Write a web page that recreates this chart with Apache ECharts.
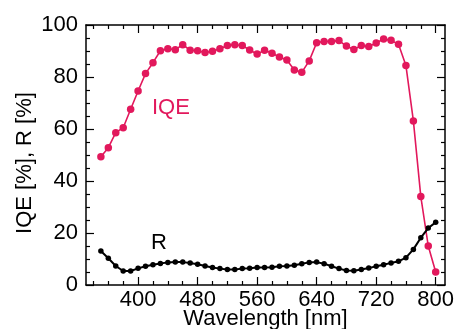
<!DOCTYPE html>
<html>
<head>
<meta charset="utf-8">
<script src="https://cdn.jsdelivr.net/npm/echarts@6/dist/echarts.min.js"></script>
<style>
html,body{margin:0;padding:0;background:#fff;}
#c{width:455px;height:329px;}
</style>
</head>
<body>
<div id="c"></div>
<script>
var wavelengths = [350,360,370,380,390,400,410,420,430,440,450,460,470,480,490,500,510,520,530,540,550,560,570,580,590,600,610,620,630,640,650,660,670,680,690,700,710,720,730,740,750,760,770,780,790,800];
var iqe = [49.3,52.8,58.6,60.5,67.6,74.6,81.3,85.5,90.1,90.9,90.5,92.4,90.3,90.1,89.4,89.9,90.9,92.1,92.4,92.1,90.4,88.8,90.3,89.1,87.7,86.5,82.7,81.8,86.2,93.2,93.7,93.7,94.0,91.9,90.6,92.1,91.7,93.1,94.6,94.1,92.6,84.4,63.1,34.0,15.0,5.0];
var refl = [13.1,10.3,7.3,5.4,5.4,6.4,7.2,7.8,8.3,8.7,8.8,8.8,8.5,8.0,7.3,6.7,6.3,6.0,6.0,6.3,6.4,6.7,6.7,6.8,7.2,7.3,7.6,8.2,8.7,8.8,8.2,7.2,6.3,5.6,5.5,6.0,6.5,7.2,7.8,8.5,9.1,10.5,13.7,18.2,21.9,24.1];
var xMajorTicks = [400,480,560,640,720,800];
var xMinorTicks = [340,360,380,420,440,460,500,520,540,580,600,620,660,680,700,740,760,780];

var FONT = 'Liberation Sans, Arial, sans-serif';
var FS = 22;
var pink = '#e2185c';
function pairs(ys){ var out=[]; for(var i=0;i<wavelengths.length;i++) out.push([wavelengths[i], ys[i]]); return out; }

function xAx(pos, ticks, len, showLine, showLabel){
  return {
    type:'value', position:pos, min:330, max:812.5,
    axisLine:{show:showLine, lineStyle:{color:'#000', width:1.5}},
    axisTick:{show:true, inside:true, length:len, customValues:ticks, lineStyle:{color:'#000', width:1.2}},
    axisLabel:{show:showLabel, customValues:ticks, color:'#000', fontSize:FS, fontFamily:FONT, margin:4},
    splitLine:{show:false}
  };
}
function yAx(pos, showLabel){
  return {
    type:'value', position:pos, min:0, max:100, interval:20,
    axisLine:{show:true, lineStyle:{color:'#000', width:1.5}},
    axisTick:{show:true, inside:true, length:8, lineStyle:{color:'#000', width:1.2}},
    minorTick:{show:true, splitNumber:4, length:4, lineStyle:{color:'#000', width:1.2}},
    axisLabel:{show:showLabel, color:'#000', fontSize:FS, fontFamily:FONT, margin:8},
    splitLine:{show:false}, minorSplitLine:{show:false}
  };
}

var chart = echarts.init(document.getElementById('c'), null, {renderer:'canvas'});
var xa0 = xAx('bottom', xMajorTicks, 8, true, true);
xa0.name = 'Wavelength [nm]';
xa0.nameLocation = 'middle';
xa0.nameGap = 23;
xa0.nameMoveOverlap = false;
xa0.nameTextStyle = {color:'#000', fontSize:FS, fontFamily:FONT};
chart.setOption({
  animation:false,
  grid:{left:86, right:10, top:25, bottom:44, containLabel:false, outerBoundsMode:'none'},
  xAxis:[
    xa0,
    xAx('bottom', xMinorTicks, 4, false, false),
    xAx('top', xMajorTicks, 8, true, false),
    xAx('top', xMinorTicks, 4, false, false)
  ],
  yAxis:[ yAx('left', true), yAx('right', false) ],
  graphic:[
    {type:'text', x:25, y:163, rotation:Math.PI/2,
     style:{text:'IQE [%], R [%]', fill:'#000', font:FS+'px '+FONT, align:'center', verticalAlign:'middle'}},
    {type:'text', x:152, y:107.5,
     style:{text:'IQE', fill:pink, font:'22px '+FONT, align:'left', verticalAlign:'middle'}},
    {type:'text', x:151, y:243,
     style:{text:'R', fill:'#000', font:'22px '+FONT, align:'left', verticalAlign:'middle'}}
  ],
  series:[
    {type:'line', name:'IQE', xAxisIndex:0, yAxisIndex:0, data:pairs(iqe),
     symbol:'circle', symbolSize:7.5, showSymbol:true,
     lineStyle:{color:pink, width:1.6}, itemStyle:{color:pink}},
    {type:'line', name:'R', xAxisIndex:0, yAxisIndex:0, data:pairs(refl),
     symbol:'circle', symbolSize:5.5, showSymbol:true,
     lineStyle:{color:'#000', width:2}, itemStyle:{color:'#000'}}
  ]
});
</script>
</body>
</html>
